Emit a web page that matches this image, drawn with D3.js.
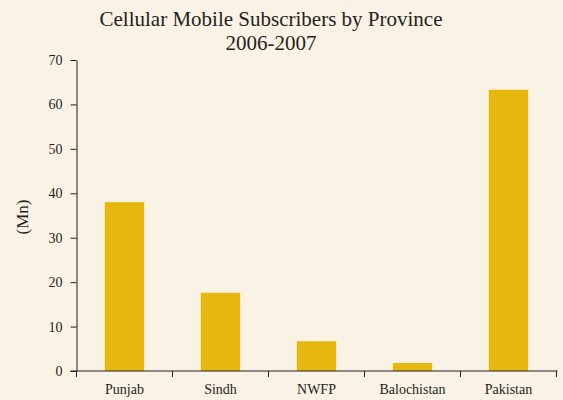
<!DOCTYPE html>
<html>
<head>
<meta charset="utf-8">
<script src="https://cdn.jsdelivr.net/npm/d3@7"></script>
<style>
  body { margin: 0; background: #fbf2e6; }
  svg { display: block; }
</style>
</head>
<body>
<div id="chart"></div>
<script>
// chart data
var provinces = ["Punjab", "Sindh", "NWFP", "Balochistan", "Pakistan"];
var subscribers = [38.0, 17.6, 6.7, 1.8, 63.3];
var yTicks = [0, 10, 20, 30, 40, 50, 60, 70];
var titleLines = ["Cellular Mobile Subscribers by Province", "2006-2007"];

var w = 563, h = 400;
var margin = {top: 60, right: 6, bottom: 29, left: 76.5};
var width = w - margin.left - margin.right,
    height = h - margin.top - margin.bottom;

var svg = d3.select("#chart").append("svg")
    .attr("width", w)
    .attr("height", h)
    .style("font-family", "'Liberation Serif', 'Times New Roman', serif");

svg.append("rect").attr("width", w).attr("height", h).attr("fill", "#fbf2e6");

// title
svg.selectAll(".title")
    .data(titleLines)
  .enter().append("text")
    .attr("class", "title")
    .attr("x", 271)
    .attr("y", function(d, i) { return 26 + i * 24; })
    .attr("text-anchor", "middle")
    .attr("font-size", "21px")
    .attr("fill", "#231f20")
    .text(function(d) { return d; });

var g = svg.append("g")
    .attr("transform", "translate(" + margin.left + "," + margin.top + ")");

var x = d3.scaleBand().domain(provinces).range([0, 480]);
var y = d3.scaleLinear().domain([0, 70]).range([height, 0]);

var barW = x.bandwidth() * 0.41;

// bars
g.selectAll(".bar")
    .data(provinces)
  .enter().append("rect")
    .attr("class", "bar")
    .attr("x", function(d) { return x(d) + (x.bandwidth() - barW) / 2; })
    .attr("y", function(d, i) { return y(subscribers[i]); })
    .attr("width", barW)
    .attr("height", function(d, i) { return height - y(subscribers[i]); })
    .attr("fill", "#e6b80e");

// y axis
var yAxis = g.append("g")
    .call(d3.axisLeft(y).tickValues(yTicks).tickSize(6).tickPadding(8).tickSizeOuter(0));
yAxis.select(".domain").attr("stroke", "#231f20");
yAxis.selectAll(".tick line").attr("stroke", "#231f20");
yAxis.selectAll("text").attr("font-size", "14px").attr("fill", "#231f20")
    .attr("font-family", "'Liberation Serif', serif");

// x axis, ticks on band boundaries
var xAxis = g.append("g")
    .attr("transform", "translate(0," + height + ")");
xAxis.append("line")
    .attr("x1", -6).attr("x2", 481)
    .attr("stroke", "#231f20");
xAxis.selectAll(".xtick")
    .data(provinces.concat(["end"]))
  .enter().append("line")
    .attr("x1", function(d, i) { return i * x.step(); })
    .attr("x2", function(d, i) { return i * x.step(); })
    .attr("y1", 0).attr("y2", 6)
    .attr("stroke", "#231f20");
xAxis.selectAll(".xlabel")
    .data(provinces)
  .enter().append("text")
    .attr("x", function(d) { return x(d) + x.bandwidth() / 2; })
    .attr("y", 23)
    .attr("text-anchor", "middle")
    .attr("font-size", "14px")
    .attr("fill", "#231f20")
    .text(function(d) { return d; });

// y axis label
svg.append("text")
    .attr("transform", "translate(28,217) rotate(-90)")
    .attr("text-anchor", "middle")
    .attr("font-size", "17px")
    .attr("fill", "#231f20")
    .text("(Mn)");
</script>
</body>
</html>
